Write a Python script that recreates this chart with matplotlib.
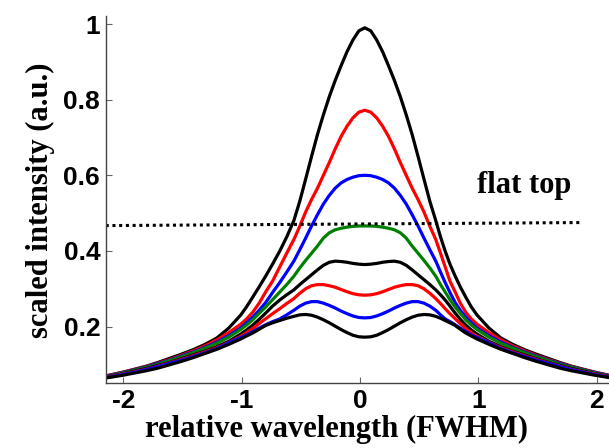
import matplotlib
matplotlib.use("Agg")
import matplotlib.pyplot as plt

# shared wavelength grid (FWHM units); peaks sit at 0.04, wings lean slightly left
x = [-2.21, -2.11, -2.01, -1.91, -1.81, -1.71, -1.61, -1.51, -1.41, -1.31, -1.21, -1.11,
     -1.01, -0.96, -0.907, -0.853, -0.797, -0.74, -0.68, -0.62, -0.56, -0.51, -0.46,
     -0.41, -0.36, -0.31, -0.26, -0.21, -0.16, -0.11, -0.06, -0.01, 0.04,
     0.09, 0.14, 0.19, 0.24, 0.29, 0.34, 0.39, 0.44, 0.49, 0.54, 0.59, 0.64,
     0.68, 0.72, 0.76, 0.803, 0.847, 0.893, 0.94, 0.99,
     1.09, 1.19, 1.29, 1.39, 1.49, 1.59, 1.69, 1.79, 1.89, 1.99, 2.09, 2.19]

# left half of each profile, far wing -> centre (mirrored for the right half)
black_1 = [0.066, 0.072, 0.079, 0.087, 0.095, 0.105, 0.116, 0.127, 0.139, 0.153, 0.170, 0.196,
           0.230, 0.252, 0.278, 0.305, 0.334, 0.365, 0.399, 0.437, 0.480, 0.531, 0.590,
           0.650, 0.708, 0.760, 0.808, 0.851, 0.890, 0.927, 0.958, 0.982, 0.990]
red_1 = [0.066, 0.072, 0.079, 0.086, 0.094, 0.103, 0.113, 0.124, 0.136, 0.149, 0.165, 0.184,
         0.206, 0.220, 0.238, 0.262, 0.292, 0.320, 0.357, 0.394, 0.430, 0.465, 0.503,
         0.536, 0.566, 0.600, 0.634, 0.670, 0.703, 0.730, 0.752, 0.767, 0.772]
blue_1 = [0.065, 0.071, 0.078, 0.085, 0.093, 0.102, 0.111, 0.122, 0.133, 0.145, 0.159, 0.176,
          0.196, 0.210, 0.225, 0.243, 0.264, 0.290, 0.316, 0.344, 0.373, 0.403, 0.434,
          0.466, 0.496, 0.524, 0.547, 0.566, 0.580, 0.589, 0.595, 0.599, 0.600]
green = [0.064, 0.070, 0.077, 0.084, 0.092, 0.100, 0.110, 0.120, 0.131, 0.143, 0.156, 0.172,
         0.192, 0.204, 0.218, 0.235, 0.252, 0.271, 0.291, 0.311, 0.333, 0.355, 0.375,
         0.394, 0.413, 0.434, 0.448, 0.456, 0.460, 0.463, 0.465, 0.466, 0.466]
black_2 = [0.063, 0.069, 0.075, 0.082, 0.089, 0.097, 0.105, 0.115, 0.125, 0.135, 0.147, 0.161,
           0.180, 0.191, 0.204, 0.219, 0.236, 0.254, 0.270, 0.284, 0.297, 0.311, 0.324,
           0.337, 0.350, 0.362, 0.370, 0.373, 0.372, 0.370, 0.367, 0.365, 0.364]
red_2 = [0.063, 0.068, 0.074, 0.080, 0.087, 0.095, 0.104, 0.113, 0.123, 0.133, 0.144, 0.158,
         0.174, 0.184, 0.195, 0.208, 0.221, 0.234, 0.247, 0.261, 0.274, 0.288, 0.300,
         0.308, 0.311, 0.311, 0.308, 0.304, 0.298, 0.292, 0.287, 0.284, 0.283]
blue_2 = [0.062, 0.067, 0.073, 0.079, 0.086, 0.094, 0.103, 0.111, 0.121, 0.131, 0.142, 0.157,
          0.171, 0.178, 0.187, 0.196, 0.205, 0.213, 0.220, 0.231, 0.243, 0.254, 0.262,
          0.266, 0.266, 0.262, 0.256, 0.249, 0.241, 0.234, 0.228, 0.224, 0.223]
black_3 = [0.061, 0.066, 0.071, 0.077, 0.083, 0.090, 0.099, 0.108, 0.118, 0.129, 0.140, 0.153,
           0.167, 0.175, 0.183, 0.193, 0.203, 0.210, 0.216, 0.222, 0.227, 0.231, 0.232,
           0.230, 0.225, 0.218, 0.210, 0.201, 0.192, 0.184, 0.177, 0.173, 0.172]

profiles = [black_1, red_1, blue_1, green, black_2, red_2, blue_2, black_3]
colors = ["black", "#ff0000", "#0000ff", "#008000", "black", "#ff0000", "#0000ff", "black"]

# dotted "flat top" level
flat_x = [-2.15, 1.86]
flat_y = [0.467, 0.475]

fig = plt.figure(figsize=(6.09, 4.48), dpi=100)
ax = fig.add_axes([0.1736, 0.1444, 0.8256, 0.8189])

for half, c in zip(profiles, colors):
    # mirror the half profile about the centre point
    y = half + half[-2::-1]
    ax.plot(x, y, color=c, lw=2.3, solid_joinstyle="round", solid_capstyle="round")

ax.plot(flat_x, flat_y, color="black", lw=2.2, linestyle=(0, (1, 1.2)))
ax.text(1.39, 0.573, "flat top", ha="center", va="center", fontsize=22,
        fontweight="bold", family="Liberation Serif")

ax.set_xlim(-2.15, 2.10)
ax.set_ylim(0.05, 1.02)
ax.set_xticks([-2, -1, 0, 1, 2])
ax.set_xticklabels(["-2", "-1", "0", "1", "2"])
ax.set_yticks([0.2, 0.4, 0.6, 0.8, 1.0])
ax.set_yticklabels(["0.2", "0.4", "0.6", "0.8", "1"])

for s in ["top", "right"]:
    ax.spines[s].set_visible(False)
for s in ["left", "bottom"]:
    ax.spines[s].set_color("#444444")
    ax.spines[s].set_linewidth(1.0)

ax.tick_params(direction="in", length=4, width=0.8, color="#666666")
ax.tick_params(axis="x", pad=4)
ax.tick_params(axis="y", pad=4)
for lab in ax.get_xticklabels() + ax.get_yticklabels():
    lab.set_fontfamily("Liberation Sans")
    lab.set_fontweight("bold")
    lab.set_fontsize(19)

ax.set_xlabel("relative wavelength (FWHM)", fontsize=22, fontweight="bold",
              family="Liberation Serif", va="baseline")
ax.xaxis.set_label_coords(0.459, -0.146)
ax.set_ylabel("scaled intensity (a.u.)", fontsize=22, fontweight="bold",
              family="Liberation Serif", labelpad=6)

fig.savefig("out.png", dpi=100)
